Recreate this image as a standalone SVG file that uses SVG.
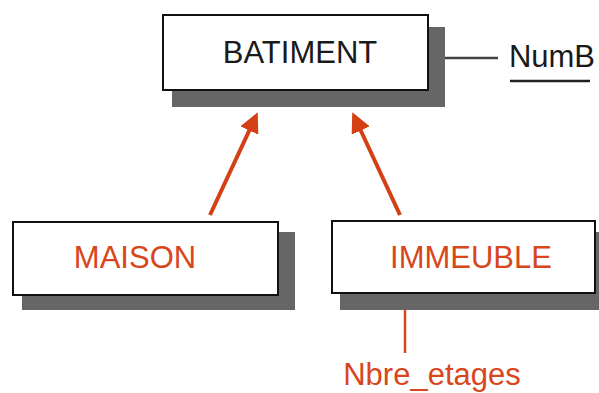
<svg xmlns="http://www.w3.org/2000/svg" width="599" height="393" viewBox="0 0 599 393">
<style>
.shadow{fill:#666666}
.box{fill:#ffffff;stroke:#111111;stroke-width:2}
.t{font-family:"Liberation Sans",Arial,sans-serif;font-size:31px;text-anchor:middle}
.dark{fill:#1a1a1a}
.red{fill:#d8461c}
.arrow{stroke:#d43f14;stroke-width:4;fill:none}
</style>
<defs>
<marker id="ah" markerWidth="5" markerHeight="5" refX="4" refY="2.5" orient="auto" markerUnits="strokeWidth">
<path d="M0,0 L5,2.5 L0,5 z" fill="#d43f14"/>
</marker>
</defs>
<rect width="599" height="393" fill="#ffffff"/>
<g id="batiment">
<rect class="shadow" x="172" y="27" width="273" height="80"/>
<rect class="box" x="163" y="15" width="265" height="75"/>
<text class="t dark" x="300" y="63">BATIMENT</text>
</g>
<g id="maison">
<rect class="shadow" x="22" y="232" width="273" height="78"/>
<rect class="box" x="13" y="222" width="265" height="73"/>
<text class="t red" x="135" y="268">MAISON</text>
</g>
<g id="immeuble">
<rect class="shadow" x="340" y="232" width="265" height="78"/>
<rect class="box" x="332" y="221" width="263" height="72"/>
<text class="t red" x="471" y="268">IMMEUBLE</text>
</g>
<g id="numb">
<text class="t dark" x="552" y="67">NumB</text>
<line x1="510" y1="81" x2="590" y2="81" stroke="#222222" stroke-width="2.5"/>
</g>
<g id="nbre_etages">
<text class="t red" x="432" y="385">Nbre_etages</text>
</g>
<g id="connectors">
<line x1="445" y1="58" x2="498" y2="58" stroke="#444444" stroke-width="2.5"/>
<line x1="405" y1="310" x2="405" y2="353" stroke="#d8461c" stroke-width="2.5"/>
<line class="arrow" x1="210" y1="215" x2="256" y2="116" marker-end="url(#ah)"/>
<line class="arrow" x1="400" y1="215" x2="354" y2="116" marker-end="url(#ah)"/>
</g>
</svg>
